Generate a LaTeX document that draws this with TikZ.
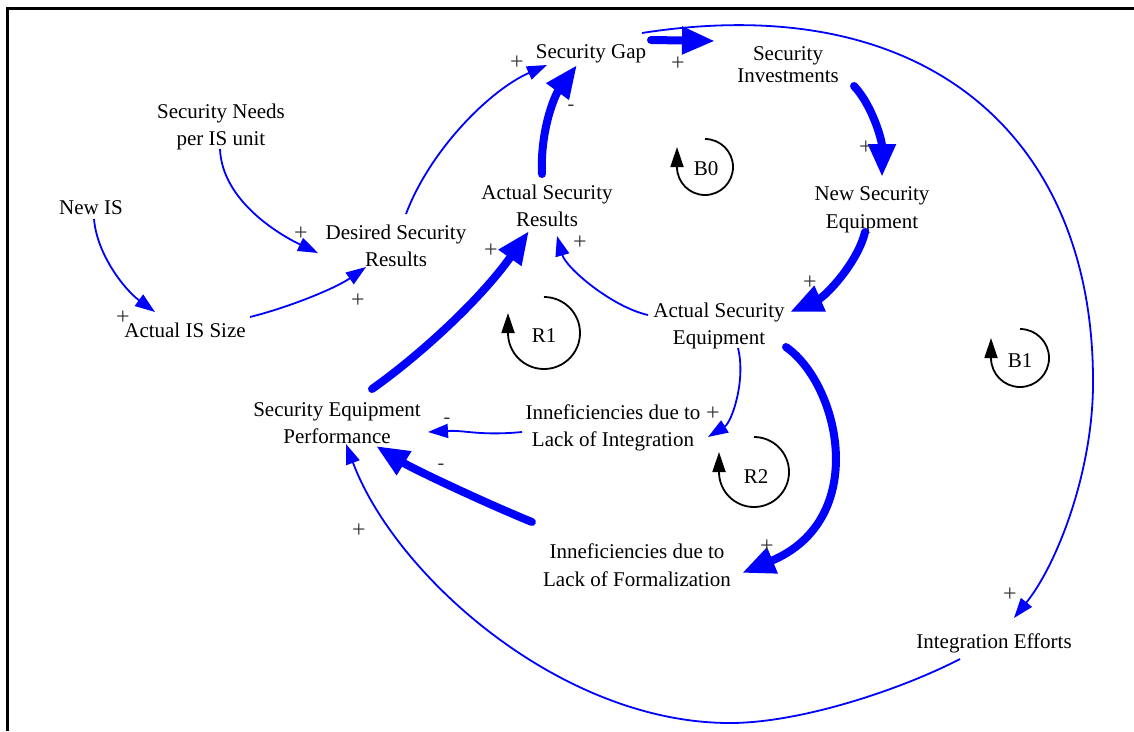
\documentclass[tikz,border=0pt]{standalone}
\usepackage{fontspec}
\setmainfont{Liberation Serif}
\usetikzlibrary{arrows.meta}
\definecolor{linkblue}{RGB}{0,0,255}

\begin{document}
\begin{tikzpicture}[x=1pt,y=-1pt,
  var/.style={font=\fontsize{21}{27.5}\selectfont, align=center, inner sep=0pt},
  sign/.style={font=\fontsize{24}{24}\selectfont, text=black!80, inner sep=0pt},
  minus/.style={font=\fontsize{20}{20}\selectfont, text=black!80, inner sep=0pt},
  thinlink/.style={draw=linkblue, line width=1.8pt, -{Triangle[length=20pt,width=14pt]}},
  thicklink/.style={draw=linkblue, line width=8pt, line cap=round, -{Triangle[length=33pt,width=26pt]}},
  loopmark/.style={draw=black, line width=1.8pt, -{Triangle[length=20pt,width=13pt]}},
  looplabel/.style={font=\fontsize{21}{21}\selectfont, inner sep=0pt}
]
\useasboundingbox (0,0) rectangle (1134,731);
% frame
\draw[line width=3pt] (7,731) -- (7,8) -- (1134,8);

% variables
\node[var] (NewIS)     at (91,208)  {New IS};
\node[var] (SecNeeds)  at (221,127) {Security Needs\\per IS unit};
\node[var] (ActISSize) at (185,330) {Actual IS Size};
\node[var] (DesSR)     at (396,246) {Desired Security\\Results};
\node[var] (SecGap)    at (591,54)  {Security Gap};
\node[var, font=\fontsize{21}{22}\selectfont] (SecInv) at (788,65) {Security\\Investments};
\node[var] (ActSR)     at (547,206) {Actual Security\\Results};
\node[var] (NewSE)     at (872,210) {New Security\\Equipment};
\node[var] (ActSE)     at (719,326) {Actual Security\\Equipment};
\node[var] (SEP)       at (337,423) {Security Equipment\\Performance};
\node[var] (IneffInt)  at (613,428) {Inneficiencies due to\\Lack of Integration};
\node[var] (IneffForm) at (637,565) {Inneficiencies due to\\Lack of Formalization};
\node[var] (IntEff)    at (994,643) {Integration Efforts};

% loop markers
\node[looplabel] (B0) at (706,169) {B0};
\node[looplabel] (R1) at (544,336) {R1};
\node[looplabel] (R2) at (756,477) {R2};
\node[looplabel] (B1) at (1020,361) {B1};
\draw[loopmark] ([shift={(-1,-30)}]B0.center) arc[start angle=-90, end angle=180, radius=28] -- ++(0,-20);
\draw[loopmark] ([shift={(0,-39)}]R1.center) arc[start angle=-90, end angle=180, radius=36] -- ++(0,-20);
\draw[loopmark] ([shift={(-2,-40)}]R2.center) arc[start angle=-90, end angle=180, radius=35] -- ++(0,-20);
\draw[loopmark] ([shift={(0,-32)}]B1.center) arc[start angle=-90, end angle=180, radius=29] -- ++(0,-20);

% thin links
\draw[thinlink] ([shift={(3,11)}]NewIS.center) .. controls (97,255) and (125,290) .. ([shift={(-30,-18)}]ActISSize.center);
\draw[thinlink] ([shift={(-1,22)}]SecNeeds.center) .. controls (222,200) and (278,234) .. ([shift={(-78,7)}]DesSR.center);
\draw[thinlink] ([shift={(65,-13)}]ActISSize.center) .. controls (290,307) and (336,288) .. ([shift={(-30,21)}]DesSR.center);
\draw[thinlink] ([shift={(10,-32)}]DesSR.center) .. controls (430,150) and (490,90) .. ([shift={(-44,11)}]SecGap.center);
\draw[thinlink] ([shift={(-71,-11)}]ActSE.center) .. controls (612,307) and (566,268) .. ([shift={(10,30)}]ActSR.center);
\draw[thinlink] ([shift={(19,22)}]ActSE.center) .. controls (746,380) and (732,422) .. ([shift={(95,9)}]IneffInt.center);
\draw[thinlink] ([shift={(-91,4)}]IneffInt.center) .. controls (480,436) and (465,430) .. ([shift={(91,9)}]SEP.center);
\draw[thinlink] ([shift={(51,-21)}]SecGap.center) .. controls (930,-12) and (1094,140) .. (1093,383)
  .. controls (1093,470) and (1058,563) .. ([shift={(20,-25)}]IntEff.center);
\draw[thinlink] ([shift={(-34,16)}]IntEff.center) .. controls (900,690) and (800,723) .. (730,723)
  .. controls (560,723) and (395,575) .. ([shift={(9,21)}]SEP.center);

% thick links
\draw[thicklink] ([shift={(-5,-32)}]ActSR.center) .. controls (540,130) and (555,95) .. ([shift={(-14,11)}]SecGap.center);
\draw[thicklink] ([shift={(60,-14)}]SecGap.center) -- ([shift={(-73,-24)}]SecInv.center);
\draw[thicklink] ([shift={(66,21)}]SecInv.center) .. controls (872,105) and (882,140) .. ([shift={(10,-33)}]NewSE.center);
\draw[thicklink] ([shift={(-7,22)}]NewSE.center) .. controls (858,262) and (826,296) .. ([shift={(71,-14)}]ActSE.center);
\draw[thicklink] ([shift={(67,21)}]ActSE.center) .. controls (840,385) and (870,520) .. ([shift={(105,8)}]IneffForm.center);
\draw[thicklink] ([shift={(-105,-43)}]IneffForm.center) .. controls (490,505) and (415,470) .. ([shift={(39,23)}]SEP.center);
\draw[thicklink] ([shift={(35,-34)}]SEP.center) .. controls (420,355) and (480,300) .. ([shift={(-18,25)}]ActSR.center);

% polarities
\node[sign]  (s1)  at (123,318) {+};
\node[sign]  (s2)  at (301,234) {+};
\node[sign]  (s3)  at (358,301) {+};
\node[sign]  (s4)  at (517,63)  {+};
\node[minus] (s5)  at (571,108) {-};
\node[sign]  (s6)  at (678,64)  {+};
\node[sign]  (s7)  at (866,148) {+};
\node[sign]  (s8)  at (810,283) {+};
\node[sign]  (s9)  at (580,243) {+};
\node[sign]  (s10) at (713,414) {+};
\node[sign]  (s11) at (767,547) {+};
\node[minus] (s12) at (447,421) {-};
\node[minus] (s13) at (441,467) {-};
\node[sign]  (s14) at (491,251) {+};
\node[sign]  (s15) at (1010,595) {+};
\node[sign]  (s16) at (359,531) {+};
\end{tikzpicture}
\end{document}
